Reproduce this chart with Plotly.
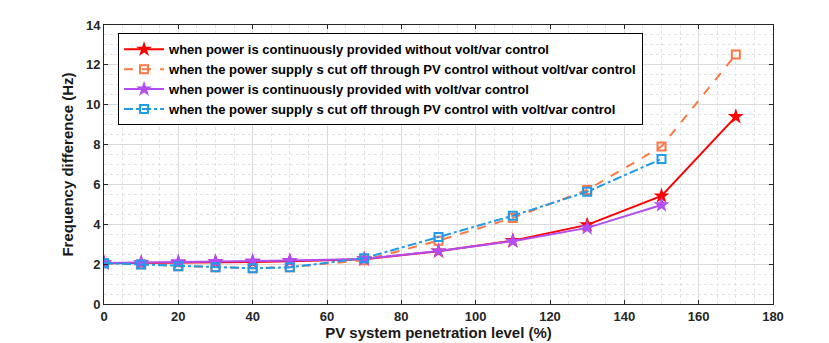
import plotly.graph_objects as go

# PV penetration levels (%)
x_full = [0, 10, 20, 30, 40, 50, 70, 90, 110, 130, 150, 170]
x_short = [0, 10, 20, 30, 40, 50, 70, 90, 110, 130, 150]

# Frequency difference (Hz)
cont_no_vv = [2.05, 2.06, 2.08, 2.10, 2.11, 2.15, 2.25, 2.65, 3.18, 3.97, 5.42, 9.40]
cut_no_vv = [2.05, 2.00, 1.90, 1.85, 1.80, 1.85, 2.20, 3.18, 4.32, 5.72, 7.90, 12.52]
cont_vv = [2.06, 2.08, 2.12, 2.13, 2.15, 2.18, 2.26, 2.66, 3.15, 3.82, 4.97]
cut_vv = [2.05, 1.98, 1.90, 1.85, 1.79, 1.84, 2.30, 3.36, 4.43, 5.63, 7.28]

names = [
    "when power is continuously provided without volt/var control",
    "when the power supply s cut off through PV control without volt/var control",
    "when power is continuously provided with volt/var control",
    "when the power supply s cut off through PV control with volt/var control",
]

fig = go.Figure()
fig.add_trace(go.Scatter(
    x=x_full, y=cont_no_vv, name=names[0], mode="lines+markers",
    line=dict(color="#FF0000", width=2),
    marker=dict(symbol="star", size=12, color="#FF0000"),
))
fig.add_trace(go.Scatter(
    x=x_full, y=cut_no_vv, name=names[1], mode="lines+markers",
    line=dict(color="#FF7744", width=2, dash="dash"),
    marker=dict(symbol="square-open", size=8, color="#FF7744", line=dict(width=2)),
))
fig.add_trace(go.Scatter(
    x=x_short, y=cont_vv, name=names[2], mode="lines+markers",
    line=dict(color="#B34DF2", width=2),
    marker=dict(symbol="star", size=12, color="#B34DF2"),
))
fig.add_trace(go.Scatter(
    x=x_short, y=cut_vv, name=names[3], mode="lines+markers",
    line=dict(color="#1F9BEA", width=2, dash="dashdot"),
    marker=dict(symbol="square-open", size=8, color="#1F9BEA", line=dict(width=2)),
))

FONT = "Liberation Sans, Arial, sans-serif"
common = dict(
    showline=True, linecolor="#262626", linewidth=1, mirror="ticks",
    ticks="inside", ticklen=4, tickcolor="#262626",
    showgrid=True, gridcolor="#DCDCDC", gridwidth=1,
    zeroline=False, automargin=False,
    tickfont=dict(family=FONT, size=13, color="#262626", weight="bold"),
)

fig.update_xaxes(
    range=[0, 180], dtick=20, tick0=0,
    minor=dict(dtick=5, showgrid=True, gridcolor="#E3E3E3", griddash="dot", ticks=""),
    title=dict(text="<b>PV system penetration level (%)</b>",
               font=dict(size=15, family=FONT, color="#1a1a1a"), standoff=0),
    **common,
)
fig.update_yaxes(
    range=[0, 14], dtick=2, tick0=0,
    minor=dict(dtick=0.5, showgrid=True, gridcolor="#E3E3E3", griddash="dot", ticks=""),
    title=dict(text="<b>Frequency difference (Hz)</b>",
               font=dict(size=15, family=FONT, color="#1a1a1a"), standoff=8),
    **common,
)

fig.update_layout(
    width=829, height=343,
    margin=dict(l=104, r=56, t=25, b=39),
    paper_bgcolor="white", plot_bgcolor="white",
    font=dict(family=FONT, size=13, color="#262626"),
    showlegend=True,
    legend=dict(
        x=0.021, y=0.97, xanchor="left", yanchor="top",
        bgcolor="white", bordercolor="#000000", borderwidth=1,
        font=dict(family=FONT, size=13, color="#000000", weight="bold"),
        tracegroupgap=0, itemwidth=40,
    ),
)

fig.write_html("out.html")
